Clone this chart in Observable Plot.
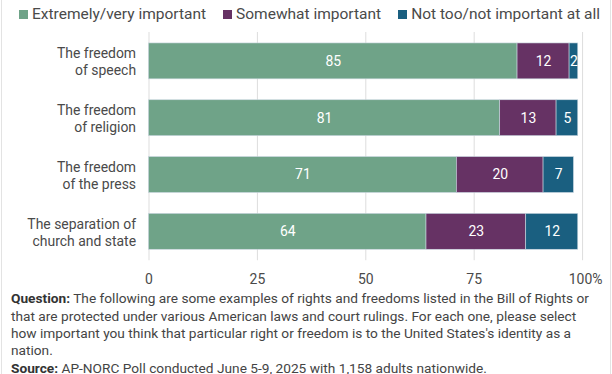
<!DOCTYPE html>
<html>
<head>
<meta charset="utf-8">
<script src="https://cdn.jsdelivr.net/npm/d3@7"></script>
<script src="https://cdn.jsdelivr.net/npm/@observablehq/plot@0.6"></script>
<style>
  body { margin: 0; background: #fff; font-family: Roboto, sans-serif; }
  #wrap { position: relative; height: 374px; box-sizing: border-box; border-left: 1px solid #e3e3e3; border-right: 1px solid #e3e3e3; width: 610px; margin-left: 1px; overflow: hidden; }
  #legend { height: 28px; display: flex; align-items: center; font-size: 15.5px; color: #4a4a4a; padding-left: 17px; white-space: nowrap; }
  #legend .item { display: flex; align-items: center; margin-right: 17px; }
  #legend .sw { width: 9px; height: 9px; margin-right: 4px; display: inline-block; }
  #footer { font-size: 13.7px; color: #444; line-height: 17.4px; padding-left: 9px; width: 592px; margin-top: 1px; }
  #footer b { color: #333; }
  svg text { font-family: Roboto, sans-serif; }
</style>
</head>
<body>
<div id="wrap">
  <div id="legend"></div>
  <div id="chart"></div>
  <div id="footer"></div>
</div>
<script>
const categories = ["The freedom\nof speech", "The freedom\nof religion", "The freedom\nof the press", "The separation of\nchurch and state"];
const groups = ["Extremely/very important", "Somewhat important", "Not too/not important at all"];
const colors = ["#6fa388", "#663264", "#1a5f80"];
const extremely = [85, 81, 71, 64];
const somewhat = [12, 13, 20, 23];
const notToo = [2, 5, 7, 12];
const xTicks = [0, 25, 50, 75, 100];

const series = [extremely, somewhat, notToo];
const data = [];
categories.forEach((c, i) => {
  groups.forEach((g, j) => data.push({cat: c, group: g, value: series[j][i]}));
});

const legend = document.getElementById("legend");
groups.forEach((g, j) => {
  const it = document.createElement("span");
  it.className = "item";
  it.innerHTML = `<span class="sw" style="background:${colors[j]}"></span>${g}`;
  legend.appendChild(it);
});

const chart = Plot.plot({
  width: 610,
  height: 262,
  marginTop: 4,
  marginBottom: 29,
  marginLeft: 147,
  marginRight: 28,
  style: {fontFamily: "Roboto, sans-serif", fontSize: "14px", color: "#4a4a4a", background: "#fff"},
  x: {domain: [0, 100], ticks: xTicks},
  y: {domain: categories, paddingInner: 0.37, paddingOuter: 0.18, label: null},
  color: {domain: groups, range: colors},
  marks: [
    Plot.gridX(xTicks, {stroke: "#dddddd", strokeOpacity: 1, strokeWidth: 1}),
    Plot.barX(data, Plot.stackX({x: "value", y: "cat", fill: "group", z: "group", order: groups, stroke: "#c9d6df", strokeWidth: 0.6})),
    Plot.text(data, Plot.stackX({x: "value", y: "cat", z: "group", order: groups, text: d => String(d.value), fill: "white", fontSize: 14})),
    Plot.axisX(xTicks.filter(t => t < 100), {tickSize: 0, tickPadding: 13, label: null, fontSize: 14, fill: "#4a4a4a"}),
    Plot.axisX([100], {tickSize: 0, tickPadding: 13, label: null, fontSize: 14, fill: "#4a4a4a", tickFormat: () => "100%", dx: 3}),
    Plot.axisY({tickSize: 0, tickPadding: 13, label: null, fontSize: 14, fill: "#4a4a4a", lineHeight: 1.2})
  ]
});
document.getElementById("chart").appendChild(chart);

document.getElementById("footer").innerHTML =
  "<b>Question:</b> The following are some examples of rights and freedoms listed in the Bill of Rights or that are protected under various American laws and court rulings. For each one, please select how important you think that particular right or freedom is to the United States's identity as a nation.<br><b>Source:</b> AP-NORC Poll conducted June 5-9, 2025 with 1,158 adults nationwide.";
</script>
</body>
</html>
